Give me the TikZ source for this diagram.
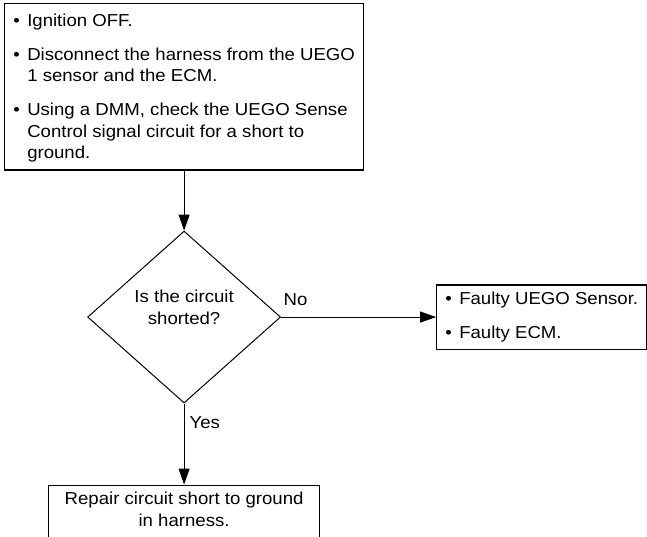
\documentclass[tikz,border=0pt]{standalone}
\usepackage{fontspec}
\setmainfont{Liberation Sans}[FakeStretch=1.075]
\usetikzlibrary{shapes.geometric,arrows.meta,positioning}

\newcommand{\itemgap}{12.5pt}

\begin{document}
\begin{tikzpicture}[
x=1pt, y=1pt,
stepbox/.style={
    draw,
    line width=1.2pt,
    inner xsep=7pt,
    inner ysep=6pt,
    font=\fontsize{17.3}{21.5}\selectfont
},
decision/.style={
    draw,
    diamond,
    line width=1pt,
    inner sep=0pt,
    minimum width=193pt,
    minimum height=172pt,
    align=center,
    font=\fontsize{17.3}{21.5}\selectfont
},
tag/.style={
    font=\fontsize{17.3}{21.5}\selectfont
},
arrow/.style={
    -{Triangle[length=16pt,width=11pt]},
    line width=1pt
}
]
\useasboundingbox (0,0) rectangle (647,-537);

\node[stepbox, minimum width=359pt, inner ysep=4.8pt, anchor=north west] (prep) at (4,-3.3)
{\begin{tabular}{@{}p{14pt}@{}l@{}}
\rule{0pt}{17.5pt}\textbullet & Ignition OFF.\\[\itemgap]
\textbullet & Disconnect the harness from the UEGO\\
            & 1 sensor and the ECM.\\[\itemgap]
\textbullet & Using a DMM, check the UEGO Sense\\
            & Control signal circuit for a short to\\
            & ground.
\end{tabular}};

\node[decision, text depth=20pt, below=60pt of prep] (shorted)
{Is the circuit\\shorted?};

\node[stepbox, minimum width=210pt, inner ysep=4.3pt, right=155pt of shorted] (faulty)
{\begin{tabular}{@{}p{14pt}@{}l@{}}
\textbullet & Faulty UEGO Sensor.\\[\itemgap]
\textbullet & Faulty ECM.
\end{tabular}};

\node[stepbox, align=center, minimum width=270.7pt, inner ysep=7pt, below=81pt of shorted] (repair)
{Repair circuit short to ground\\in harness.\strut};

\draw[arrow] (prep) -- (shorted);
\draw[arrow] (shorted) -- node[tag, pos=0, anchor=south west, inner sep=2pt, yshift=9pt] {No} (faulty);
\draw[arrow] (shorted) -- node[tag, pos=0.24, right, inner xsep=5pt] {Yes} (repair);

\end{tikzpicture}
\end{document}
